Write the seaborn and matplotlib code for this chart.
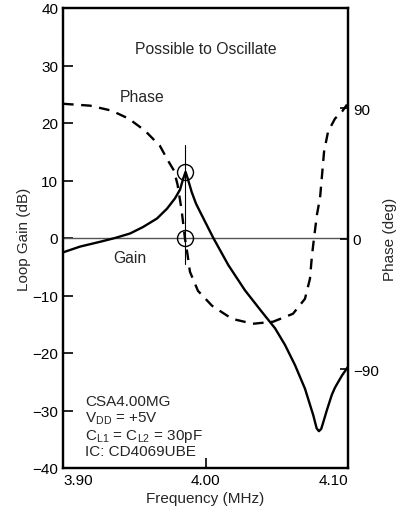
import seaborn as sns
import matplotlib.pyplot as plt
import pandas as pd

# Loop gain (dB) vs frequency (MHz)
gain_freq = [3.9000, 3.9119, 3.9260, 3.9365, 3.9470, 3.9561, 3.9660, 3.9730, 3.9786, 3.9821,
             3.9842, 3.9860, 3.9877, 3.9903, 3.9933, 3.9961, 4.0055, 4.0160, 4.0277, 4.0394,
             4.0488, 4.0558, 4.0628, 4.0698, 4.0756, 4.0780, 4.0796, 4.0812, 4.0827, 4.0851,
             4.0886, 4.0909, 4.0958, 4.1000]
gain_db = [-2.5, -1.5, -0.66, 0.0, 0.78, 1.9, 3.4, 5.1, 6.9, 8.4,
           10.2, 11.5, 10.2, 8.0, 6.0, 4.6, 0.0, -4.7, -9.1, -12.8,
           -15.7, -18.6, -22.1, -26.2, -30.8, -33.1, -33.6, -33.2, -32.0, -30.0,
           -27.3, -26.0, -23.9, -22.4]

# Phase (deg) vs frequency (MHz)
phase_freq = [3.900, 3.919, 3.934, 3.946, 3.9575, 3.968, 3.9737, 3.9779, 3.9804, 3.9832,
              3.9856, 3.9874, 3.9891, 3.9947, 4.0046, 4.0186, 4.0333, 4.0474, 4.0614, 4.0698,
              4.0733, 4.0747, 4.0761, 4.0782, 4.0804, 4.0818, 4.0832, 4.0860, 4.0909, 4.0958,
              4.0993]
phase_deg = [93.0, 91.7, 88.3, 82.8, 74.5, 64.0, 53.8, 46.9, 37.2, 20.0,
             0.0, -11.0, -22.8, -35.9, -46.2, -55.2, -58.6, -57.2, -51.7, -41.4,
             -27.6, -11.7, 0.0, 16.6, 28.3, 44.1, 60.0, 73.8, 82.8, 87.6,
             92.4]

peak_freq = 3.9856
marker_gain = [11.5, 0.0]

x_ticks = [3.90, 4.00, 4.10]
x_labels = ['3.90', '4.00', '4.10']
gain_ticks = [-40, -30, -20, -10, 0, 10, 20, 30, 40]
phase_ticks = [-90, 0, 90]
phase_labels = ['\u221290', '0', '90']

note_lines = ['CSA4.00MG',
              r'V$_\mathregular{DD}$ = +5V',
              r'C$_\mathregular{L1}$ = C$_\mathregular{L2}$ = 30pF',
              'IC: CD4069UBE']
note_y = [-29.0, -31.8, -34.9, -37.7]

df_gain = pd.DataFrame({'freq': gain_freq, 'gain': gain_db})
df_phase = pd.DataFrame({'freq': phase_freq, 'phase': phase_deg})

sns.set_style('ticks')
plt.rcParams['font.family'] = ['Liberation Sans', 'DejaVu Sans']
plt.rcParams['mathtext.fontset'] = 'custom'
plt.rcParams['mathtext.rm'] = 'Liberation Sans'
plt.rcParams['font.size'] = 11

fig = plt.figure(figsize=(4.01, 5.10), dpi=100)
ax = fig.add_axes([63 / 401, 41 / 510, 285 / 401, 460 / 510])

ax.axhline(0, color='#555555', lw=1.0, zorder=1)
sns.lineplot(data=df_gain, x='freq', y='gain', ax=ax, color='black', lw=1.7,
             estimator=None, sort=False)

# marker line and circles at the oscillation point
ax.plot([peak_freq, peak_freq], [16.2, -4.5], color='black', lw=0.8)
ax.plot([peak_freq] * 2, marker_gain, ls='none', marker='o', ms=11.5,
        mfc='none', mec='black', mew=1.0)

ax.set_xlim(3.90, 4.10)
ax.set_ylim(-40, 40)
ax.set_yticks(gain_ticks)
ax.set_xticks(x_ticks)
ax.set_xticklabels(x_labels)
xl = ax.get_xticklabels()
xl[0].set_ha('left')
xl[-1].set_ha('right')
ax.tick_params(axis='both', direction='in', length=7, width=1.2, colors='black',
               labelsize=11)
ax.set_xlabel('Frequency (MHz)', fontsize=11, labelpad=3)
ax.set_ylabel('Loop Gain (dB)', fontsize=11, labelpad=1)

ax2 = ax.twinx()
sns.lineplot(data=df_phase, x='freq', y='phase', ax=ax2, color='black', lw=1.7,
             estimator=None, sort=False, linestyle=(0, (4.5, 3.2)))
ax2.set_ylim(-158, 159)
ax2.set_yticks(phase_ticks)
ax2.set_yticklabels(phase_labels)
ax2.tick_params(axis='y', direction='in', length=6, width=1.2, colors='black',
                labelsize=11)
ax2.set_ylabel('Phase (deg)', fontsize=11, labelpad=3)
ax2.set_xlim(3.90, 4.10)

for a in (ax, ax2):
    for s in a.spines.values():
        s.set_visible(True)
        s.set_color('black')
        s.set_linewidth(1.6)

ax.text(4.0, 33, 'Possible to Oscillate', ha='center', va='center', fontsize=11.3)
ax.text(3.9555, 24.6, 'Phase', ha='center', va='center', fontsize=11.3)
ax.text(3.947, -3.4, 'Gain', ha='center', va='center', fontsize=11.3)
for txt, yy in zip(note_lines, note_y):
    ax.text(3.9154, yy, txt, ha='left', va='baseline', fontsize=11)

plt.savefig('out.png', dpi=100)
